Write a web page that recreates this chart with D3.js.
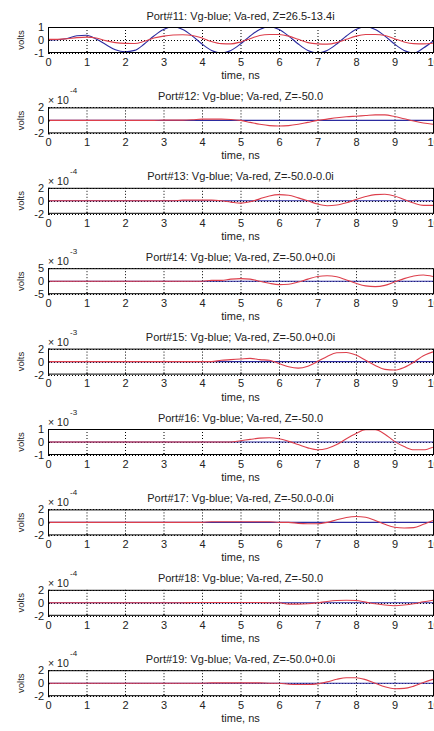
<!DOCTYPE html>
<html><head><meta charset="utf-8">
<script src="https://cdn.jsdelivr.net/npm/d3@7"></script>
<style>
html,body{margin:0;padding:0;background:#fff;}
svg{display:block;font-family:"Liberation Sans",Arial,sans-serif;}
</style></head>
<body><svg id="c" width="434" height="731"></svg>
<script>
const times = [0,0.25,0.5,0.75,1,1.25,1.5,1.75,2,2.25,2.5,2.75,3,3.25,3.5,3.75,4,4.25,4.5,4.75,5,5.25,5.5,5.75,6,6.25,6.5,6.75,7,7.25,7.5,7.75,8,8.25,8.5,8.75,9,9.25,9.5,9.75,10];
const xTicks = [0,1,2,3,4,5,6,7,8,9,10];

const titles = [
  "Port#11: Vg-blue; Va-red, Z=26.5-13.4i",
  "Port#12: Vg-blue; Va-red, Z=-50.0",
  "Port#13: Vg-blue; Va-red, Z=-50.0-0.0i",
  "Port#14: Vg-blue; Va-red, Z=-50.0+0.0i",
  "Port#15: Vg-blue; Va-red, Z=-50.0+0.0i",
  "Port#16: Vg-blue; Va-red, Z=-50.0",
  "Port#17: Vg-blue; Va-red, Z=-50.0-0.0i",
  "Port#18: Vg-blue; Va-red, Z=-50.0",
  "Port#19: Vg-blue; Va-red, Z=-50.0+0.0i"
];
const exponents = [null,"-4","-4","-3","-3","-3","-4","-4","-4"];
const yTicks = [[-1,0,1],[-2,0,2],[-2,0,2],[-5,0,5],[-2,0,2],[-1,0,1],[-2,0,2],[-2,0,2],[-2,0,2]];

const zeros = [0,0,0,0,0,0,0,0,0,0,0,0,0,0,0,0,0,0,0,0,0,0,0,0,0,0,0,0,0,0,0,0,0,0,0,0,0,0,0,0,0];

const vg11 = [0,0.02,0.12,0.33,0.36,0.08,-0.35,-0.75,-0.9,-0.8,-0.31,0.31,0.81,1,0.81,0.31,-0.31,-0.81,-1,-0.81,-0.31,0.31,0.81,1,0.81,0.31,-0.31,-0.81,-1,-0.81,-0.31,0.31,0.81,1,0.81,0.31,-0.31,-0.81,-1,-0.62,-0.1];
const va11 = [0.05,0.05,0.1,0.18,0.22,0.15,-0.05,-0.2,-0.26,-0.27,-0.1,0.15,0.3,0.38,0.4,0.35,0.15,-0.12,-0.28,-0.3,-0.15,0.1,0.35,0.42,0.42,0.3,0.05,-0.2,-0.3,-0.32,-0.2,0.05,0.3,0.42,0.42,0.35,0.1,-0.15,-0.28,-0.3,-0.25];
const va12 = [0,0,0,0,0,0,0,0,0,0,0,0,0.05,0.05,0.05,0.1,0.2,0.2,0.2,0.15,0,-0.3,-0.6,-0.8,-0.85,-0.8,-0.6,-0.3,0,0.2,0.4,0.55,0.65,0.75,0.85,0.85,0.6,0.25,-0.1,-0.4,-0.6];
const va13 = [0,0,0,0,0,0,0,0,0,0,0,0,0,0,0.1,0.1,0.1,0.1,0,-0.2,-0.35,-0.15,0.3,0.75,0.95,0.85,0.45,0,-0.5,-0.75,-0.65,-0.3,0.2,0.65,0.95,1.0,0.75,0.2,-0.35,-0.7,-0.7];
const va14 = [0,0,0,0,0,0,0,0,0,0,0,0,0,0,0,0,0,0.3,0.3,0.8,1.0,0.8,0,-0.8,-1.3,-1.2,-0.3,0.8,1.8,2.1,1.7,0.5,-0.8,-1.8,-2.1,-1.6,-0.3,1.0,2.0,2.4,1.8];
const va15 = [0,0,0,0,0,0,0,0,0,0,0,0,0,0,0,0,0,0,0.2,0.3,0.4,0.5,0.3,0.2,-0.3,-0.8,-1.0,-0.7,0,0.8,1.35,1.4,1.0,0.2,-0.6,-1.2,-1.3,-0.9,-0.1,0.9,1.5];
const va16 = [0,0,0,0,0,0,0,0,0,0,0,0,0,0,0,0,0,0,0,0,0.1,0.2,0.3,0.33,0.25,0.05,-0.2,-0.45,-0.6,-0.5,-0.2,0.25,0.65,0.95,0.95,0.6,0.05,-0.35,-0.6,-0.6,-0.4];
const va17 = [0,0,0,0,0,0,0,0,0,0,0,0,0,0,0,0,0,0.1,0.1,0.1,0.1,0.1,0.1,0.1,0,0,-0.15,-0.2,-0.2,0,0.4,0.75,0.9,0.8,0.3,-0.3,-0.75,-0.85,-0.8,-0.3,0.3];
const va18 = [0,0,0,0,0,0,0,0,0,0,0,0,0,0,0,0.05,0.05,0.05,0.05,0.05,0.05,0.05,0.05,0,0,-0.2,-0.2,-0.15,0,0.2,0.35,0.4,0.35,0.1,-0.15,-0.35,-0.45,-0.35,-0.15,0.15,0.4];
const va19 = [0,0,0,0,0,0,0,0,0,0,0,0,0,0,0,0,0,0.05,0.05,0.05,0.05,0.05,0.05,0,0,-0.15,-0.2,-0.2,-0.1,0.2,0.6,0.85,0.85,0.55,0,-0.55,-0.85,-0.8,-0.45,0.1,0.6];

const vgSeries = [vg11, zeros, zeros, zeros, zeros, zeros, zeros, zeros, zeros];
const vaSeries = [va11, va12, va13, va14, va15, va16, va17, va18, va19];

const BLUE = "#2b2ba0", RED = "#dd3f4c", TXT = "#222";
const svg = d3.select("#c");
const left = 48, right = 433, h = 26;
const x = d3.scaleLinear().domain([0,10]).range([left,right]);
const fmt = d => String(d);

titles.forEach((title, i) => {
  const top = 27 + 80.4*i, bot = top + h;
  const yt = yTicks[i];
  const y = d3.scaleLinear().domain([yt[0], yt[2]]).range([bot, top]);
  const g = svg.append("g");
  const cid = "clip"+i;
  svg.append("clipPath").attr("id", cid).append("rect")
    .attr("x", left).attr("y", top).attr("width", right-left).attr("height", h);

  // grid
  g.selectAll(".gx").data(xTicks.slice(1,-1)).join("line")
    .attr("x1", d=>x(d)+0.5).attr("x2", d=>x(d)+0.5).attr("y1", top).attr("y2", bot)
    .attr("stroke","#000").attr("stroke-width",1).attr("stroke-dasharray","1,2");
  g.selectAll(".gy").data(yt).join("line")
    .attr("x1", left).attr("x2", right).attr("y1", d=>Math.round(y(d))+0.5).attr("y2", d=>Math.round(y(d))+0.5)
    .attr("stroke","#000").attr("stroke-width",1).attr("stroke-dasharray","1,2");

  const line = d3.line().x((d,k)=>x(times[k])).y(d=>y(d)).curve(d3.curveMonotoneX);
  g.append("path").attr("d", line(vgSeries[i])).attr("fill","none")
    .attr("stroke",BLUE).attr("stroke-width",1.1).attr("clip-path",`url(#${cid})`);
  g.append("path").attr("d", line(vaSeries[i])).attr("fill","none")
    .attr("stroke",RED).attr("stroke-width",1.1).attr("clip-path",`url(#${cid})`);

  // box
  g.append("rect").attr("x", left+0.5).attr("y", top+0.5).attr("width", right-left).attr("height", h-1)
    .attr("fill","none").attr("stroke","#000").attr("stroke-width",1);

  // axes (ticks inside)
  const ax = g.append("g").attr("transform",`translate(0,${bot})`)
    .call(d3.axisBottom(x).tickValues(xTicks).tickSize(-2).tickPadding(5).tickFormat(fmt));
  ax.select(".domain").remove();
  ax.selectAll("text").attr("font-size",11).attr("fill",TXT).attr("font-family","Liberation Sans, Arial");
  ax.selectAll("line").attr("stroke","#000");
  const ay = g.append("g").attr("transform",`translate(${left},0)`)
    .call(d3.axisLeft(y).tickValues(yt).tickSize(-2).tickPadding(4).tickFormat(fmt));
  ay.select(".domain").remove();
  ay.selectAll("text").attr("font-size",11).attr("fill",TXT).attr("font-family","Liberation Sans, Arial");
  ay.selectAll("line").attr("stroke","#000");

  // labels
  g.append("text").attr("x",(left+right)/2).attr("y", top-7.5).attr("text-anchor","middle")
    .attr("font-size",11).attr("fill",TXT).text(title);
  g.append("text").attr("x",(left+right)/2).attr("y", bot+26).attr("text-anchor","middle")
    .attr("font-size",11).attr("fill",TXT).text("time, ns");
  g.append("text").attr("transform",`translate(24,${top+h/2}) rotate(-90)`).attr("text-anchor","middle")
    .attr("font-size",9.5).attr("fill",TXT).text("volts");
  if (exponents[i]) {
    g.append("text").attr("x",48).attr("y",top-3).attr("font-size",10.5).attr("fill",TXT).text("× 10");
    g.append("text").attr("x",70).attr("y",top-14).attr("font-size",8).attr("fill",TXT).text(exponents[i]);
  }
});
</script></body></html>
